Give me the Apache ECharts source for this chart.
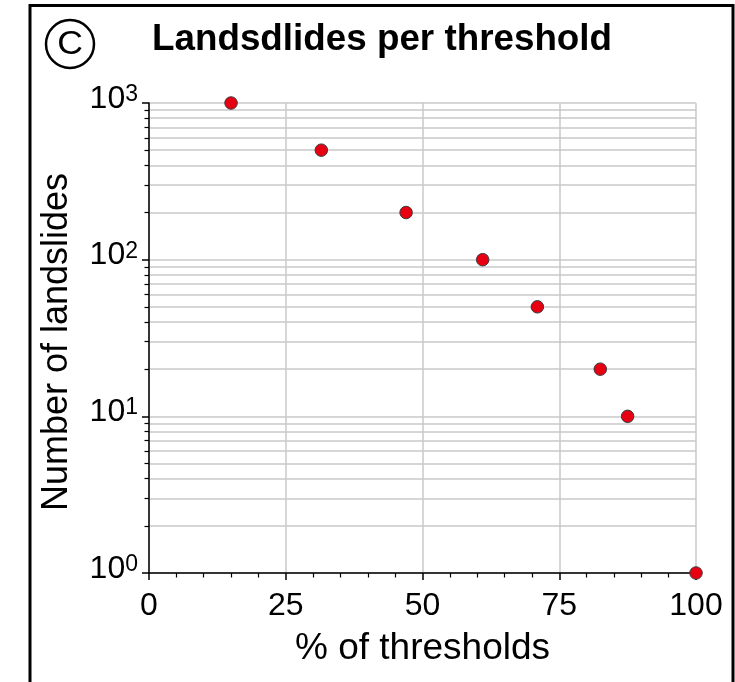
<!DOCTYPE html>
<html>
<head>
<meta charset="utf-8">
<script src="https://cdn.jsdelivr.net/npm/echarts@6/dist/echarts.min.js"></script>
<style>
  html, body { margin: 0; padding: 0; background: #fff; }
  #chart { width: 735px; height: 682px; }
</style>
</head>
<body>
<div id="chart"></div>
<script>
// % of thresholds exceeded vs number of landslides
const thresholdPct = [15, 31.5, 47, 61, 71, 82.5, 87.5, 100];
const landslideCount = [1000, 500, 200, 100, 50, 20, 10, 1];

// y axis ticks (log)
const decadeTicks = [1, 10, 100, 1000];
const minorTicks = [2, 3, 4, 5, 6, 7, 8, 9, 20, 30, 40, 50, 60, 70, 80, 90, 200, 300, 400, 500, 600, 700, 800, 900];

const gridGray = '#c9c9c9';
const font = 'Liberation Sans';

const chart = echarts.init(document.getElementById('chart'));

chart.setOption({
    animation: false,
    backgroundColor: '#fff',
    title: {
        text: 'Landsdlides per threshold',
        left: 152,
        top: 21,
        padding: 0,
        textStyle: {
            fontFamily: font,
            fontWeight: 'bold',
            fontSize: 36.8,
            color: '#000'
        }
    },
    graphic: [
        {
            type: 'rect',
            shape: { x: 30, y: 5.5, width: 703, height: 700 },
            style: { fill: 'none', stroke: '#000', lineWidth: 3 },
            silent: true
        },
        {
            type: 'circle',
            shape: { cx: 70, cy: 44, r: 24 },
            style: { fill: 'none', stroke: '#000', lineWidth: 2.5 },
            silent: true
        },
        {
            type: 'text',
            x: 70,
            y: 45,
            scaleX: 1.08,
            style: {
                text: 'C',
                fontFamily: font,
                fontWeight: 'normal',
                fontSize: 33,
                fill: '#000',
                align: 'center',
                verticalAlign: 'middle'
            },
            silent: true
        }
    ],
    grid: {
        left: 149,
        right: 39,
        top: 103,
        bottom: 109
    },
    xAxis: {
        type: 'value',
        min: 0,
        max: 100,
        interval: 25,
        name: '% of thresholds',
        nameLocation: 'middle',
        nameGap: 57,
        nameTextStyle: {
            fontFamily: font,
            fontSize: 37,
            color: '#000'
        },
        axisLine: { lineStyle: { color: '#000', width: 1.5 } },
        axisTick: { length: 7, lineStyle: { color: '#000', width: 1.5 } },
        minorTick: { show: true, splitNumber: 5, length: 4.5, lineStyle: { color: '#000', width: 1.2 } },
        splitLine: { show: true, lineStyle: { color: gridGray, width: 1.5 } },
        axisLabel: {
            margin: 17,
            fontFamily: font,
            fontSize: 32,
            color: '#000'
        }
    },
    yAxis: [
        {
            type: 'log',
            logBase: 10,
            min: 1,
            max: 1000,
            position: 'left',
            name: 'Number of landslides',
            nameLocation: 'middle',
            nameGap: 74,
            nameTextStyle: {
                fontFamily: font,
                fontSize: 36,
                color: '#000',
                padding: [0, 8, 0, 0]
            },
            axisLine: { show: true, lineStyle: { color: '#000', width: 1.5 } },
            axisTick: { show: true, length: 7, customValues: decadeTicks, lineStyle: { color: '#000', width: 1.5 } },
            splitLine: { show: true, lineStyle: { color: gridGray, width: 1.5 } },
            axisLabel: {
                margin: 11,
                customValues: decadeTicks,
                padding: [0, 0, 8, 0],
                formatter: function (v) {
                    return '{b|10}{s|' + Math.round(Math.log10(v)) + '}';
                },
                rich: {
                    b: { fontFamily: font, fontSize: 32, lineHeight: 32, color: '#000' },
                    s: { fontFamily: font, fontSize: 23, lineHeight: 11, verticalAlign: 'top', color: '#000' }
                }
            }
        },
        {
            type: 'log',
            logBase: 10,
            min: 1,
            max: 1000,
            position: 'left',
            offset: 0,
            axisLine: { show: false },
            axisLabel: { show: false },
            axisTick: { show: true, length: 4.5, customValues: minorTicks, lineStyle: { color: '#000', width: 1.2 } },
            splitLine: { show: true, lineStyle: { color: gridGray, width: 1.5 } }
        }
    ],
    series: [
        {
            type: 'scatter',
            yAxisIndex: 0,
            symbol: 'circle',
            symbolSize: 12.5,
            itemStyle: { color: '#e60012', opacity: 1, borderColor: '#3a3a3a', borderWidth: 1 },
            z: 5,
            data: thresholdPct.map((x, i) => [x, landslideCount[i]])
        }
    ]
});
</script>
</body>
</html>
